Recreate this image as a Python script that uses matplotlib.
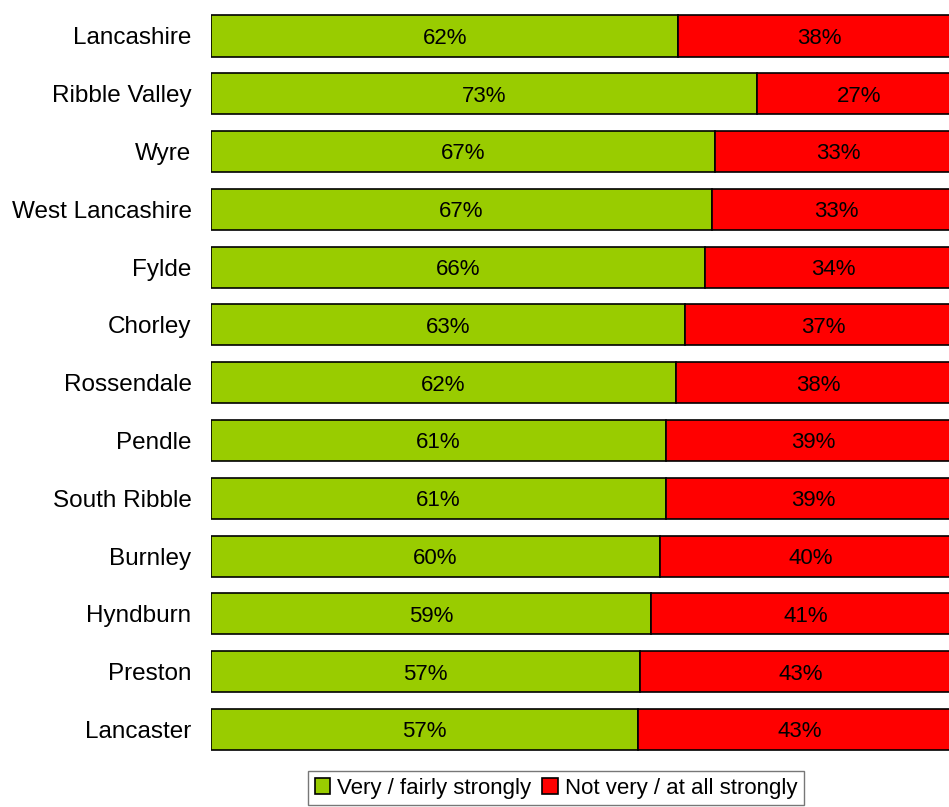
import numpy as np
import matplotlib.pyplot as plt

plt.rcParams['font.family'] = ['Liberation Sans', 'DejaVu Sans']

# Data
areas = ['Lancashire', 'Ribble Valley', 'Wyre', 'West Lancashire', 'Fylde',
         'Chorley', 'Rossendale', 'Pendle', 'South Ribble', 'Burnley',
         'Hyndburn', 'Preston', 'Lancaster']
strongly = [62.3, 72.8, 67.2, 66.8, 65.9, 63.2, 62.0, 60.7, 60.7, 59.9, 58.7, 57.2, 56.9]
not_strongly = [100 - v for v in strongly]

GREEN = '#99CC00'
RED = '#FF0000'

fig = plt.figure(figsize=(9.49, 8.07), dpi=100)
# axes runs past the right edge of the figure, as in the original crop
ax = fig.add_axes([211 / 949, 1 - 758.4 / 807, 750 / 949, (758.4 - 7.1) / 807])

y = np.arange(len(areas))
b1 = ax.barh(y, strongly, height=0.71, color=GREEN, edgecolor='black', linewidth=1.2,
             label='Very / fairly strongly')
b2 = ax.barh(y, not_strongly, left=strongly, height=0.71, color=RED, edgecolor='black',
             linewidth=1.2, label='Not very / at all strongly')

for bars in (b1, b2):
    for r in bars:
        ax.text(r.get_x() + r.get_width() / 2, r.get_y() + r.get_height() / 2 + 0.04,
                '%d%%' % round(r.get_width()), ha='center', va='center', fontsize=16)

ax.set_xlim(0, 100)
ax.set_ylim(len(areas) - 0.5, -0.5)
ax.set_yticks(y)
ax.set_yticklabels(areas, fontsize=17.5)
ax.tick_params(axis='y', length=0, pad=14)
ax.set_xticks([])
for s in ax.spines.values():
    s.set_visible(False)

fig.legend(loc='upper center', bbox_to_anchor=(556 / 949, 1 - 771 / 807), ncol=2,
           fontsize=16, frameon=True, fancybox=False, edgecolor='#555555',
           handlelength=0.7, handleheight=0.7, handletextpad=0.3, columnspacing=0.5,
           borderpad=0.3, borderaxespad=0)

fig.savefig('out.png', dpi=100)
